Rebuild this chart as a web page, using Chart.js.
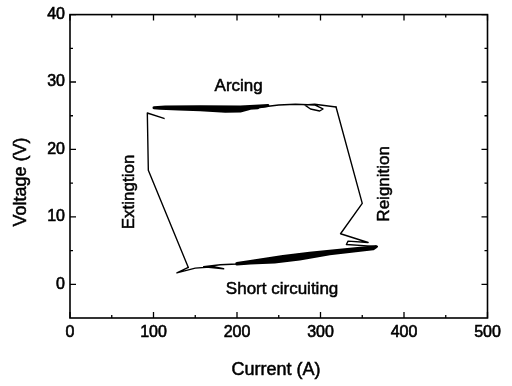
<!DOCTYPE html>
<html>
<head>
<meta charset="utf-8">
<script src="https://cdn.jsdelivr.net/npm/chart.js@4/dist/chart.umd.min.js"></script>
<style>
  html, body { margin: 0; padding: 0; background: #fff; }
</style>
</head>
<body>
<canvas id="myChart" width="512" height="386"></canvas>
<script>
// axis ticks
const xTicks = [0, 100, 200, 300, 400, 500];
const yTicks = [0, 10, 20, 30, 40];

// the cycle, one phase at a time (current in A, voltage in V)
const shortCircuitI = [141.7, 128, 150, 172, 184, 160, 180, 200, 220, 240, 260, 280, 300, 320, 340, 355, 368];
const shortCircuitV = [2.5, 1.7, 2.4, 2.6, 2.3, 2.6, 2.9, 3.0, 3.2, 3.5, 3.8, 4.1, 4.4, 4.7, 5.0, 5.3, 5.6];

const reignitionI = [368, 356, 331, 333, 357, 324, 350, 318.6];
const reignitionV = [5.6, 5.7, 5.9, 6.4, 6.2, 7.5, 12.0, 26.3];

const arcingI = [318.6, 293, 281, 288, 299, 303, 293, 270, 250, 230, 210, 190, 170, 150, 130, 112, 100.6];
const arcingV = [26.3, 26.7, 26.6, 26.0, 25.7, 26.0, 26.6, 26.7, 26.6, 26.3, 26.0, 25.9, 26.0, 26.0, 26.1, 26.1, 26.2];

const extinctionI = [112.6, 92.6, 93.8, 141.7];
const extinctionV = [24.6, 25.4, 16.9, 2.5];

// noisy parts of the trace that print as heavy bands (upper edge out, lower edge back, middle out)
const arcBandI = [100.6, 114, 156, 204, 227, 237, 216, 204, 186, 156, 130, 108, 100.6, 130, 170, 200, 225];
const arcBandV = [26.2, 26.3, 26.35, 26.3, 26.45, 26.5, 26.1, 25.7, 25.65, 25.9, 26.0, 26.1, 26.2, 26.15, 26.0, 26.0, 26.2];

const shortBandI = [200, 216, 255, 287, 323, 366, 363, 311, 275, 245, 216, 200, 240, 280, 320, 360];
const shortBandV = [3.05, 3.35, 4.1, 4.55, 5.0, 5.55, 5.3, 4.55, 3.8, 3.35, 3.2, 3.05, 3.45, 4.1, 4.8, 5.4];

const FONT = 'Arial, "Liberation Sans", sans-serif';

const toPoints = (xs, ys) => xs.map((x, i) => ({ x: x, y: ys[i] }));

const trace = (xs, ys, width) => ({
    data: toPoints(xs, ys),
    showLine: true,
    borderColor: '#000',
    backgroundColor: '#000',
    borderWidth: width,
    pointRadius: 0,
    tension: 0,
    borderJoinStyle: 'round',
    borderCapStyle: 'round',
});

const notes = [
    { text: 'Arcing', i: 202, v: 29.3, rot: 0 },
    { text: 'Short circuiting', i: 254, v: -0.7, rot: 0 },
    { text: 'Extingtion', i: 70.5, v: 13.7, rot: -90 },
    { text: 'Reignition', i: 377, v: 14.9, rot: -90 },
];

const drawText = (ctx, text, px, py, rot) => {
    ctx.save();
    ctx.translate(px, py);
    ctx.rotate(rot * Math.PI / 180);
    ctx.fillText(text, 0, 0);
    ctx.strokeText(text, 0, 0);
    ctx.restore();
};

const framePlugin = {
    id: 'framePlugin',
    afterDatasetsDraw(chart) {
        const { ctx, chartArea: a, scales: { x, y } } = chart;
        ctx.save();
        ctx.strokeStyle = '#000';
        ctx.lineWidth = 1.6;
        ctx.strokeRect(a.left, a.top, a.right - a.left, a.bottom - a.top);

        // inward ticks on all four sides, minor ones half way
        ctx.lineWidth = 1.3;
        const xs = [];
        xTicks.forEach((v, k) => {
            xs.push([v, 6]);
            if (k < xTicks.length - 1) xs.push([(v + xTicks[k + 1]) / 2, 3]);
        });
        xs.forEach(([v, len]) => {
            const px = x.getPixelForValue(v);
            ctx.beginPath();
            ctx.moveTo(px, a.bottom); ctx.lineTo(px, a.bottom - len);
            ctx.moveTo(px, a.top); ctx.lineTo(px, a.top + len);
            ctx.stroke();
        });
        const ys = [];
        yTicks.forEach((v, k) => {
            ys.push([v, 6]);
            if (k < yTicks.length - 1) ys.push([(v + yTicks[k + 1]) / 2, 3]);
        });
        ys.forEach(([v, len]) => {
            const py = y.getPixelForValue(v);
            ctx.beginPath();
            ctx.moveTo(a.left, py); ctx.lineTo(a.left + len, py);
            ctx.moveTo(a.right, py); ctx.lineTo(a.right - len, py);
            ctx.stroke();
        });

        // phase labels
        ctx.fillStyle = '#000';
        ctx.lineWidth = 0.5;
        ctx.font = '17px ' + FONT;
        ctx.textAlign = 'center';
        ctx.textBaseline = 'middle';
        notes.forEach(n => drawText(ctx, n.text, x.getPixelForValue(n.i), y.getPixelForValue(n.v), n.rot));

        // axis titles
        ctx.font = '18px ' + FONT;
        drawText(ctx, 'Current (A)', 276, 370, 0);
        drawText(ctx, 'Voltage (V)', 21, 182, -90);
        ctx.restore();
    }
};

const tickStyle = {
    color: '#000',
    padding: 5,
    textStrokeColor: '#000',
    textStrokeWidth: 0.6,
    font: { family: FONT, size: 16 },
};

const ctx = document.getElementById('myChart');
new Chart(ctx, {
    type: 'scatter',
    data: {
        datasets: [
            trace(shortCircuitI, shortCircuitV, 1.4),
            trace(reignitionI, reignitionV, 1.4),
            trace(arcingI, arcingV, 1.4),
            trace(extinctionI, extinctionV, 1.4),
            trace(arcBandI, arcBandV, 3),
            trace(shortBandI, shortBandV, 3.5),
        ]
    },
    options: {
        responsive: false,
        animation: false,
        layout: { padding: { left: 0, top: 14, right: 24.5, bottom: 0 } },
        plugins: {
            legend: { display: false },
            tooltip: { enabled: false },
        },
        scales: {
            x: {
                type: 'linear',
                min: 0,
                max: 500,
                afterBuildTicks: s => { s.ticks = xTicks.map(v => ({ value: v })); },
                afterFit: s => { s.height = 68; },
                grid: { display: false, drawTicks: false },
                border: { display: false },
                ticks: tickStyle,
            },
            y: {
                type: 'linear',
                min: -5,
                max: 40,
                afterBuildTicks: s => { s.ticks = yTicks.map(v => ({ value: v })); },
                afterFit: s => { s.width = 70; },
                grid: { display: false, drawTicks: false },
                border: { display: false },
                ticks: tickStyle,
            }
        }
    },
    plugins: [framePlugin]
});
</script>
</body>
</html>
